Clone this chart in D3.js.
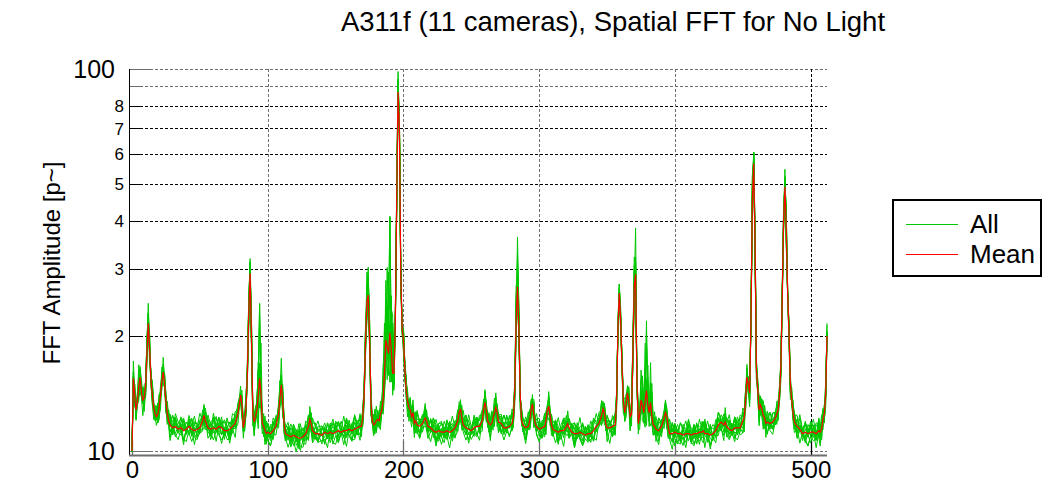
<!DOCTYPE html>
<html><head><meta charset="utf-8">
<script src="https://cdn.jsdelivr.net/npm/d3@7"></script>
<style>
body{margin:0;background:#fff}
svg{display:block}
text{font-family:"Liberation Sans",Arial,Helvetica,sans-serif;fill:#000}
</style>
</head><body>
<svg id="chart" width="1042" height="496"></svg>
<script>
// ---------------- data ----------------
const titleText = "A311f (11 cameras), Spatial FFT for No Light";
const yLabelText = "FFT Amplitude [p~]";
const xTicks = [0, 100, 200, 300, 400, 500];
const yGrid = [10, 20, 30, 40, 50, 60, 70, 80, 90, 100];
const yTickValues = [10, 20, 30, 40, 50, 60, 70, 80, 100];
const yTickLabels = ["10", "2", "3", "4", "5", "6", "7", "8", "100"];
const legendLabels = ["All", "Mean"];

// mean FFT amplitude, [bin, value]
const meanSeries = [[0,10.0],[1,15.5],[2,14.0],[3,12.8],[4,13.5],[5,14.8],[6,15.6],[7,14.2],[8,13.6],[9,13.8],[10,14.8],[11,18.0],[12,21.6],[13,18.5],[14,15.2],[15,14.0],[16,13.0],[17,12.5],[18,12.3],[19,12.5],[20,13.0],[21,14.0],[22,15.2],[23,16.1],[24,15.0],[25,13.5],[26,12.5],[27,12.0],[28,11.7],
[30,11.5],[32,11.6],[34,11.4],[36,11.5],[38,11.3],[40,11.4],[42,11.6],[44,11.4],[46,11.3],[48,11.4],[50,11.5],[52,12.0],[53,12.4],[54,12.0],[56,11.5],[58,11.4],[60,11.5],[62,11.4],[64,11.6],[66,11.5],[68,11.3],[70,11.3],[72,11.4],[74,11.6],[76,11.8],[78,12.5],[80,14.0],[81,13.2],[82,11.5],[83,12.0],[84,13.0],[85,16.0],[86,23.0],[87,29.2],[88,20.0],[89,12.5],[90,11.9],[91,12.3],[92,12.8],[93,14.0],[94,15.5],[95,14.2],[96,11.8],[97,11.6],[98,11.3],[99,11.1],
[100,11.2],[102,11.1],[104,11.3],[106,11.6],[108,12.5],[109,13.8],[110,14.9],[111,13.5],[112,11.8],[113,11.1],[115,11.0],[117,10.9],[119,11.0],[121,10.9],[123,10.8],[124,10.8],[126,10.9],[128,11.1],[130,11.6],[131,12.1],[132,11.8],[133,11.3],[135,11.1],[137,11.1],[140,11.0],[142,11.2],[144,11.1],[146,11.2],[148,11.1],[150,11.2],[152,11.3],[154,11.2],[156,11.3],[158,11.3],[160,11.4],[162,11.3],[164,11.4],[166,11.5],[168,11.6],[169,11.6],[170,12.2],[171,14.0],[172,19.0],[173,24.5],[174,25.6],[175,20.0],[176,13.5],[177,12.0],[178,11.7],[179,11.8],[180,12.0],[181,12.1],[182,12.0],[183,12.5],[184,12.8],[185,13.6],[186,16.0],[187,19.5],[188,18.7],[189,18.0],[190,20.4],[191,18.5],[192,16.0],[193,16.0],[194,22.0],[195,45.0],[196,87.0],[197,70.0],[198,29.0],[199,21.0],
[200,19.5],[201,16.5],[202,14.4],[203,13.5],[204,13.0],[205,12.8],[206,12.3],[207,12.6],[208,11.8],[209,12.0],[210,11.7],[212,11.6],[214,11.8],[216,12.2],[217,12.0],[218,11.6],[220,11.5],[222,11.3],[224,11.2],[226,11.3],[228,11.2],[230,11.2],[232,11.3],[234,11.2],[236,11.3],[238,11.5],[240,12.0],[241,12.6],[242,12.9],[243,12.2],[244,11.7],[246,11.5],[248,11.4],[250,11.3],[252,11.5],[254,11.6],[256,11.6],[258,12.0],[259,12.8],[260,13.4],[261,12.8],[262,12.0],[263,11.8],[264,11.7],[265,11.8],[266,12.2],[267,12.6],[268,13.0],[269,12.6],[270,11.9],[272,11.8],[274,11.5],[276,11.5],[278,11.6],[280,11.8],[281,12.3],[282,14.5],[283,22.0],[284,26.9],[285,21.0],[286,14.0],[287,12.0],[288,11.7],[290,11.5],[292,11.6],[293,12.0],[294,12.8],[295,13.3],[296,12.5],[297,11.8],[298,11.6],
[300,11.4],[302,11.5],[304,11.6],[305,12.0],[306,12.8],[307,13.1],[308,12.4],[309,11.7],[310,11.4],[312,11.3],[314,11.2],[316,11.3],[318,11.3],[320,11.6],[321,11.8],[322,11.5],[324,11.2],[326,11.1],[328,11.1],[330,11.2],[332,11.1],[334,11.0],[336,11.1],[338,11.1],[340,11.3],[342,11.6],[344,11.8],[346,12.4],[347,12.9],[348,12.6],[349,11.8],[350,11.5],[352,11.5],[354,11.6],[356,11.7],[357,13.5],[358,21.0],[359,25.9],[360,22.0],[361,16.6],[362,13.5],[363,12.6],[364,13.2],[365,14.2],[366,13.5],[367,12.3],[368,12.5],[369,18.0],[370,27.0],[371,29.0],[372,15.1],[373,11.8],[374,12.5],[375,13.6],[376,13.2],[377,12.6],[378,13.5],[379,14.4],[380,13.2],[381,12.6],[382,13.4],[383,12.3],[384,11.7],[385,11.6],[386,11.4],[388,11.3],[390,11.6],[392,12.2],[393,12.6],[394,12.3],[395,11.6],[396,11.1],[398,11.1],
[400,11.2],[402,11.1],[404,11.1],[406,11.0],[408,11.1],[410,11.1],[412,11.0],[414,11.1],[416,11.1],[418,11.2],[420,11.2],[421,11.3],[422,11.1],[424,11.1],[426,11.0],[428,11.1],[430,11.3],[432,11.7],[434,11.9],[436,11.7],[437,11.9],[438,11.6],[440,11.4],[442,11.3],[444,11.5],[446,11.5],[448,11.5],[450,12.0],[451,12.2],[452,13.5],[453,15.6],[454,15.0],[455,14.2],[456,22.0],[457,45.0],[458,56.6],[459,35.0],[460,16.3],[461,14.5],[462,12.8],[463,13.2],[464,12.9],[465,12.4],[466,12.2],[467,11.8],[468,11.9],[470,11.8],[472,11.9],[474,12.2],[475,12.5],[476,12.8],[477,14.0],[478,16.6],[479,25.0],[480,40.0],[481,49.2],[482,38.0],[483,26.0],[484,20.4],[485,15.0],[486,13.6],[487,12.6],[488,11.9],[490,11.6],[492,11.4],[494,11.1],[496,11.2],[498,11.1],
[500,11.2],[502,11.2],[504,11.1],[506,11.3],[507,11.2],[508,11.4],[509,12.1],[510,12.5],[511,14.0],[512,20.0]];

// per-camera departure from the mean (percent, log-scale), read as the spread of the green band
const cameraBias = [2, -3, 1, -1, 3, -2, 0, -4, 2, 3, -1];
const cameraDev = [
  [2,-3,4,-1,3,-4,1,5,-2,0,-5,3,1],
  [-1,4,-3,2,5,-2,-4,1,3,-5,2,0,-3,4],
  [4,0,-2,5,-3,1,-5,3,2,-1,-4,4,0,-2,3],
  [-3,2,1,-4,4,-1,3,-2,5,-5,0,2,-3,1,4,-1],
  [1,-4,3,0,-2,5,-3,2,-5,4,-1,1,3,-4,0,2,-2],
  [5,-2,-4,3,1,-3,4,-1,0,2,-5,3,-2,4,1,-4,2,-1],
  [-2,3,0,-5,4,2,-3,1,-1,5,-4,2,0,-3,3,-2,4,-4,1],
  [0,-4,5,-2,2,-3,3,1,-5,4,-1,-2,3,-4,5,0,-3,2,-1,1],
  [3,1,-3,4,-4,0,2,-2,5,-1,-3,4,1,-5,2,3,-2,0,-4,4,-1],
  [-4,5,-1,2,-3,3,0,-5,4,1,-2,2,-4,3,-1,5,-3,1,0,-2,4,-1],
  [1,-1,4,-4,3,-2,-3,5,0,2,-5,1,4,-2,3,-3,2,-1,5,-4,0,3,-2]
];
// how much wider the camera spread is around the peaks: [bin, factor]
const peakSpread = [[0,0.3],[1,1.3],[5,1.6],[6,1.6],[11,1.5],[12,2],[13,1.5],[86,1.8],[87,2.2],[88,1.8],[93,5],[94,9],[95,5],[109,1.7],[110,2],[111,1.7],[172,2.2],[173,2.6],[174,2.8],[175,2.2],[185,3],[186,5],[187,6],[188,6],[189,7],[190,14],[191,8],[192,5],[193,3],[194,2],[195,1.6],[196,1.55],[197,1.6],[283,3],[284,5],[285,3],[369,2],[370,2.5],[371,3.5],[375,3],[376,3.5],[378,5],[379,7],[380,4],[382,4],[383,2.5],[457,2],[458,2.2],[459,2],[480,1.4],[481,1.5],[482,1.4]];
const baseSpread = 1.1;

// ---------------- chart ----------------
const svg = d3.select("#chart");
const x = d3.scaleLinear().domain([0, 512]).range([132, 827]);
const y = d3.scaleLog().domain([10, 100]).range([451, 69]);
const FONT_MAJOR = 25, FONT_MINOR = 17;

// grid
const grid = svg.append("g");
grid.selectAll("line.h").data(yGrid).join("line")
  .attr("x1", 130).attr("x2", 827)
  .attr("y1", d => Math.round(y(d)) + 0.5).attr("y2", d => Math.round(y(d)) + 0.5)
  .attr("stroke", d => (d === 10 || d >= 90) ? "#6e6e6e" : "#000")
  .attr("stroke-width", 1).attr("stroke-dasharray", "3,2");
grid.selectAll("line.v").data(xTicks.filter(d => d > 0)).join("line")
  .attr("x1", d => Math.round(x(d)) + 0.5).attr("x2", d => Math.round(x(d)) + 0.5)
  .attr("y1", 69).attr("y2", 455)
  .attr("stroke", d => d === 500 ? "#000" : "#6e6e6e")
  .attr("stroke-width", 1).attr("stroke-dasharray", "3,2");

// tick marks
svg.append("g").selectAll("line").data(yGrid).join("line")
  .attr("x1", 130).attr("x2", d => (d === 10 || d === 100) ? 150 : 140)
  .attr("y1", d => Math.round(y(d)) + 0.5).attr("y2", d => Math.round(y(d)) + 0.5)
  .attr("stroke", d => (d === 10 || d >= 90) ? "#6e6e6e" : "#000").attr("stroke-width", 1);
svg.append("g").selectAll("line").data(xTicks).join("line")
  .attr("x1", d => Math.round(x(d)) + 0.5).attr("x2", d => Math.round(x(d)) + 0.5)
  .attr("y1", 441).attr("y2", 455)
  .attr("stroke", d => d === 500 ? "#000" : "#6e6e6e").attr("stroke-width", 1.3);

// axes lines
svg.append("line").attr("x1", 129.5).attr("x2", 129.5).attr("y1", 69).attr("y2", 456)
  .attr("stroke", "#000").attr("stroke-width", 1);
svg.append("line").attr("x1", 129).attr("x2", 827).attr("y1", 455.5).attr("y2", 455.5)
  .attr("stroke", "#6e6e6e").attr("stroke-width", 2);

// tick labels via d3 axes
const yAxis = d3.axisLeft(y).tickValues(yTickValues)
  .tickFormat((d, i) => yTickLabels[i]).tickSize(0).tickPadding(0);
const gy = svg.append("g").call(yAxis);
gy.select(".domain").remove();
gy.selectAll(".tick text")
  .attr("font-family", "Liberation Sans, Arial, sans-serif")
  .attr("font-size", d => (d === 10 || d === 100) ? FONT_MAJOR : FONT_MINOR)
  .attr("x", d => (d === 10 || d === 100) ? 115 : 124)
  .attr("dy", "0.35em").attr("fill", "#000");

const xAxis = d3.axisBottom(x).tickValues(xTicks).tickSize(0).tickPadding(0);
const gx = svg.append("g").call(xAxis);
gx.select(".domain").remove();
gx.selectAll(".tick text")
  .attr("font-family", "Liberation Sans, Arial, sans-serif")
  .attr("font-size", 24).attr("y", 478).attr("dy", 0).attr("fill", "#000");

// data
svg.append("clipPath").attr("id", "plotclip").append("rect")
  .attr("x", 130).attr("y", 66).attr("width", 700).attr("height", 386);
const spreadMap = new Map(peakSpread);
const cams = cameraDev.map((dev, k) => meanSeries.map(([b, v], i) => {
  const s = spreadMap.has(b) ? spreadMap.get(b) : baseSpread;
  const dd = cameraBias[k] + dev[i % dev.length];
  const e = dd >= 0 ? s : Math.sqrt(s);
  return [b, v * Math.exp(dd * e / 100)];
}));
const line = d3.line().x(d => x(d[0])).y(d => y(Math.max(9.5, d[1])));
const plot = svg.append("g").attr("clip-path", "url(#plotclip)");
plot.selectAll("path.cam").data(cams).join("path")
  .attr("class", "cam").attr("d", line)
  .attr("fill", "none").attr("stroke", "#00c800").attr("stroke-width", 1);
plot.append("path").datum(meanSeries).attr("d", line)
  .attr("fill", "none").attr("stroke", "#ff0000").attr("stroke-width", 1.2);

// title & y label
svg.append("text").attr("x", 613).attr("y", 31).attr("text-anchor", "middle")
  .attr("font-size", 27.5).text(titleText);
svg.append("text").attr("transform", "translate(60,263) rotate(-90)")
  .attr("text-anchor", "middle").attr("font-size", 24).text(yLabelText);

// legend
const lg = svg.append("g");
lg.append("rect").attr("x", 893).attr("y", 200).attr("width", 148).attr("height", 76)
  .attr("fill", "#fff").attr("stroke", "#000").attr("stroke-width", 2);
const legendColors = ["#00c800", "#ff0000"];
legendLabels.forEach((t, i) => {
  const yy = 224 + i * 30;
  lg.append("line").attr("x1", 906).attr("x2", 958).attr("y1", yy + 0.5).attr("y2", yy + 0.5)
    .attr("stroke", legendColors[i]).attr("stroke-width", 1);
  lg.append("text").attr("x", 970).attr("y", yy + 9).attr("font-size", 26).text(t);
});
</script>
</body></html>
